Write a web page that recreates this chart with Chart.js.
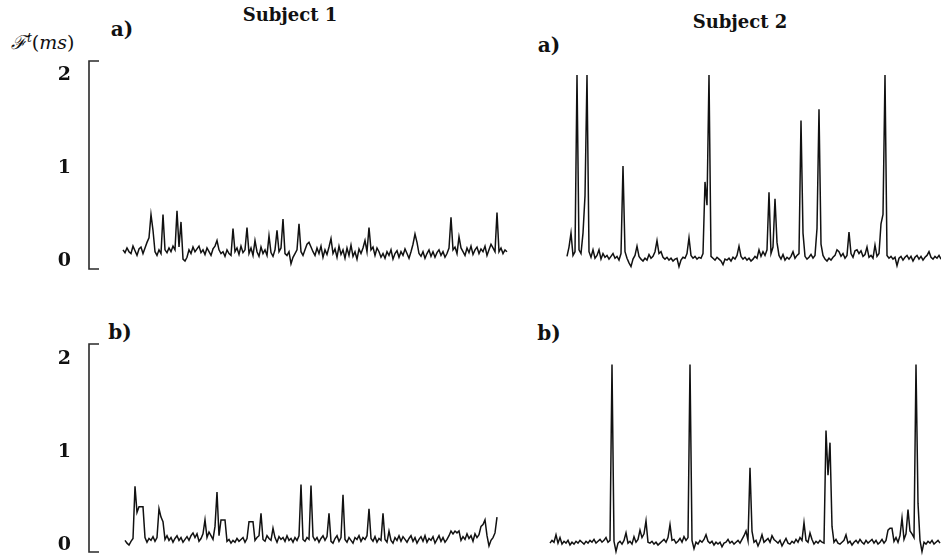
<!DOCTYPE html>
<html>
<head>
<meta charset="utf-8">
<script src="https://cdn.jsdelivr.net/npm/chart.js@4/dist/chart.umd.min.js"></script>
<style>
  html, body { margin:0; padding:0; background:#fff; }
  body { width:941px; height:558px; overflow:hidden; position:relative; }
  canvas { position:absolute; }
  .t { position:absolute; transform:translate(-50%,-50%); font-family:"DejaVu Serif", serif; font-weight:bold; color:#111; white-space:nowrap; }
  .sub { font-size:18px; }
  .lab { font-size:20px; }
  .ylab { position:absolute; left:11px; top:42px; transform:translateY(-50%); font-family:"DejaVu Serif", serif; font-size:19px; color:#111; white-space:nowrap; }
  .ylab i { font-style:italic; }
  .ylab sup { font-size:12px; font-style:italic; }
</style>
</head>
<body>
<div class="t sub" style="left:290px; top:14px;">Subject 1</div>
<div class="t sub" style="left:740px; top:21px;">Subject 2</div>
<div class="t lab" style="left:122px; top:29px;">a)</div>
<div class="t lab" style="left:549px; top:45px;">a)</div>
<div class="t lab" style="left:120px; top:332px;">b)</div>
<div class="t lab" style="left:549px; top:333px;">b)</div>
<div class="ylab"><span style="font-style:italic;">ℱ</span><sup>t</sup>(<i>ms</i>)</div>

<canvas id="c1a" width="515" height="230" style="left:0px; top:50px;"></canvas>
<canvas id="c2a" width="381" height="230" style="left:560px; top:50px;"></canvas>
<canvas id="c1b" width="515" height="225" style="left:0px; top:333px;"></canvas>
<canvas id="c2b" width="396" height="225" style="left:545px; top:333px;"></canvas>

<script>
// Tick labels on the y axis (F^t in ms)
const yTicks = [0, 1, 2];

// Subject 1, panel a)
const subject1A = [
  0.12,0.09,0.14,0.10,0.08,0.16,0.11,0.06,0.13,0.15,
  0.08,0.14,0.20,0.25,0.50,0.33,0.10,0.06,0.12,0.08,
  0.50,0.12,0.09,0.14,0.10,0.16,0.12,0.54,0.15,0.42,
  0.02,0.00,0.04,0.12,0.08,0.15,0.10,0.13,0.16,0.09,
  0.12,0.07,0.14,0.10,0.06,0.13,0.16,0.22,0.12,0.08,
  0.10,0.05,0.12,0.08,0.06,0.35,0.10,0.14,0.07,0.16,
  0.09,0.12,0.36,0.08,0.14,0.06,0.22,0.10,0.05,0.15,
  0.08,0.12,0.06,0.27,0.09,0.05,0.12,0.33,0.10,0.14,
  0.45,0.08,0.06,0.10,-0.03,0.04,0.08,0.12,0.40,0.10,
  0.06,0.12,0.18,0.20,0.15,0.10,0.06,0.14,0.08,0.16,
  0.04,0.12,0.07,0.15,0.24,0.08,0.13,0.04,0.16,0.07,
  0.12,0.03,0.14,0.06,0.17,0.05,0.10,0.02,0.13,0.08,
  0.14,0.22,0.10,0.36,0.12,0.15,0.06,0.14,0.10,0.04,
  0.08,0.03,0.10,0.06,0.12,0.02,0.08,0.11,0.04,0.10,
  0.06,0.13,0.08,0.03,0.10,0.18,0.29,0.20,0.08,0.05,
  0.10,0.03,0.08,0.12,0.05,0.10,0.04,0.09,0.12,0.06,
  0.10,0.04,0.08,0.14,0.47,0.12,0.15,0.08,0.26,0.14,
  0.10,0.06,0.14,0.09,0.16,0.07,0.12,0.15,0.08,0.13,
  0.10,0.16,0.06,0.12,0.18,0.14,0.10,0.52,0.10,0.14,
  0.08,0.12,0.10
];

// Subject 2, panel a)
const subject2A = [
  0.05,0.15,0.30,0.06,0.10,2.00,0.12,0.08,0.30,0.70,
  2.00,0.10,0.04,0.12,0.03,0.06,0.12,0.02,0.08,0.04,
  0.06,0.02,0.05,0.08,0.03,0.05,0.01,0.08,1.02,0.10,
  0.03,-0.02,-0.06,0.02,0.06,0.16,0.05,0.02,0.00,0.03,
  0.01,0.07,0.03,0.05,0.10,0.22,0.08,0.10,0.04,0.02,
  0.04,0.01,0.03,0.00,0.02,0.03,-0.06,0.01,0.04,0.03,
  0.08,0.25,0.06,0.03,0.05,0.02,0.04,0.03,0.08,0.85,
  0.60,2.00,0.05,0.03,0.01,0.04,0.02,0.00,-0.04,0.02,
  0.01,0.03,0.00,0.04,0.02,0.06,0.16,0.05,0.02,0.04,
  0.01,0.03,0.00,0.02,0.05,0.03,0.12,0.05,0.10,0.06,
  0.12,0.74,0.08,0.15,0.67,0.20,0.06,0.02,0.07,0.01,
  0.04,0.02,0.05,0.10,0.03,0.06,0.08,1.51,0.30,0.05,
  0.02,0.04,0.07,0.03,0.06,0.35,1.63,0.18,0.06,0.02,
  0.00,0.03,0.01,0.04,0.06,0.12,0.10,0.05,0.08,0.03,
  0.06,0.31,0.08,0.04,0.11,0.12,0.08,0.11,0.05,0.07,
  0.15,0.04,0.06,0.03,0.17,0.05,0.08,0.40,0.50,2.00,
  0.06,0.03,0.05,0.02,0.04,-0.05,0.03,0.05,0.01,0.04,
  0.06,0.02,0.05,0.00,0.04,0.06,0.02,0.05,0.01,0.04,
  0.06,0.10,0.04,0.02,0.05,0.03,0.06,0.02
];

// Subject 1, panel b)
const subject1B = [
  0.05,0.02,0.00,0.04,0.07,0.63,0.35,0.41,0.41,0.41,
  0.08,0.03,0.07,0.05,0.09,0.04,0.08,0.39,0.30,0.25,
  0.06,0.10,0.05,0.08,0.03,0.07,0.10,0.05,0.08,0.03,
  0.06,0.09,0.05,0.10,0.13,0.08,0.12,0.04,0.07,0.12,
  0.27,0.08,0.14,0.10,0.06,0.20,0.57,0.10,0.27,0.27,
  0.27,0.04,0.06,0.02,0.05,0.03,0.07,0.04,0.06,0.08,
  0.03,0.07,0.25,0.25,0.25,0.05,0.08,0.10,0.34,0.06,
  0.04,0.10,0.07,0.05,0.18,0.08,0.03,0.09,0.06,0.08,
  0.04,0.10,0.05,0.07,0.03,0.08,0.05,0.10,0.65,0.06,
  0.04,0.08,0.06,0.64,0.09,0.05,0.08,0.03,0.07,0.10,
  0.05,0.09,0.34,0.04,0.02,0.07,0.10,0.04,0.08,0.54,
  0.06,0.03,0.08,0.05,0.02,0.08,0.06,0.10,0.04,0.08,
  0.06,0.10,0.39,0.07,0.04,0.09,0.03,0.07,0.05,0.34,
  0.06,0.03,0.15,0.05,0.02,0.08,0.05,0.10,0.04,0.09,
  0.06,0.03,0.07,0.10,0.04,0.08,0.02,0.06,0.09,0.04,
  0.10,0.03,0.07,0.05,0.09,0.02,0.06,0.10,0.04,0.08,
  0.03,0.06,0.10,0.15,0.12,0.15,0.13,0.15,0.05,0.09,
  0.06,0.12,0.07,0.10,0.04,0.12,0.08,0.11,0.20,0.22,
  0.27,0.10,-0.01,0.05,0.08,0.13,0.30
];

// Subject 2, panel b)
const subject2B = [
  0.02,0.05,0.03,0.11,0.02,0.08,0.01,0.04,0.02,0.05,
  0.00,0.03,0.01,0.04,0.02,0.05,0.03,0.01,0.04,0.02,
  0.05,0.03,0.06,0.02,0.04,0.06,0.03,0.05,0.08,0.03,
  0.05,1.94,0.04,-0.07,0.02,0.04,0.01,0.05,0.13,0.02,
  0.04,0.01,0.09,0.03,0.06,0.16,0.08,0.12,0.26,0.03,
  0.02,0.04,0.01,0.03,0.00,0.02,0.04,0.06,0.03,0.08,
  0.22,0.05,0.06,0.02,0.04,0.07,0.03,0.09,0.05,0.08,
  1.94,0.05,-0.04,0.03,0.01,0.05,0.03,0.06,0.11,0.04,
  0.02,0.04,0.00,0.03,0.01,0.03,-0.02,0.02,0.03,0.06,
  0.02,0.04,0.01,0.03,0.05,0.02,0.06,0.10,0.15,0.05,
  0.83,0.15,0.03,0.05,-0.01,0.04,0.11,0.03,0.05,0.07,
  0.03,0.10,0.06,0.04,0.02,0.05,-0.01,0.03,0.07,0.02,
  0.01,0.04,0.02,0.06,0.03,0.08,0.05,0.24,0.05,0.03,
  0.13,0.06,0.01,0.04,0.02,0.05,0.03,0.02,1.23,0.75,
  1.10,0.20,0.03,0.06,0.02,0.01,0.03,0.05,0.11,0.02,
  0.04,0.00,0.03,0.05,0.02,0.06,0.03,0.01,0.05,0.02,
  0.04,0.06,0.02,0.05,0.01,0.03,0.06,0.02,0.05,0.16,
  0.18,0.18,0.04,0.08,0.03,0.10,0.29,0.06,0.12,0.38,
  0.15,0.12,0.08,1.94,0.45,0.05,-0.07,0.03,0.01,0.04,
  0.02,0.05,0.01,0.03,0.05,0.02
];

const bracketPlugin = {
  id: 'bracket',
  afterDraw(chart) {
    const s = chart.scales.y;
    if (!s.options.display) return;
    const ctx = chart.ctx;
    ctx.save();
    ctx.strokeStyle = '#2a2a2a';
    ctx.lineWidth = 1.6;
    ctx.beginPath();
    ctx.moveTo(s.right + 10, s.top);
    ctx.lineTo(s.right, s.top);
    ctx.lineTo(s.right, s.bottom);
    ctx.lineTo(s.right + 10, s.bottom);
    ctx.stroke();
    ctx.restore();
  }
};

function makePanel(id, values, cfg) {
  const labels = values.map((_, i) => i);
  return new Chart(document.getElementById(id), {
    type: 'line',
    data: {
      labels: labels,
      datasets: [{
        data: values,
        borderColor: '#111111',
        borderWidth: 1.5,
        pointRadius: 0,
        tension: 0,
        fill: false,
        clip: false
      }]
    },
    options: {
      responsive: false,
      animation: false,
      devicePixelRatio: 1,
      layout: { padding: { top: 11, bottom: cfg.padBottom, left: 0, right: 0 } },
      plugins: { legend: { display: false }, tooltip: { enabled: false }, title: { display: false } },
      scales: {
        x: { type: 'linear', min: cfg.xMin, max: cfg.xMax, display: false },
        y: {
          min: cfg.yMin, max: cfg.yMax,
          display: cfg.showAxis,
          position: 'left',
          afterFit: (s) => {
            if (cfg.showAxis) { s.width = 89; }
            s.paddingTop = 0; s.paddingBottom = 0;
          },
          afterBuildTicks: (s) => { s.ticks = yTicks.map(v => ({ value: v })); },
          grid: { display: false },
          border: { display: false },
          ticks: {
            padding: 10,
            color: '#111',
            font: { family: 'DejaVu Serif', weight: 'bold', size: 19 }
          }
        }
      }
    },
    plugins: [bracketPlugin]
  });
}

makePanel('c1a', subject1A, { showAxis: true,  xMin: -17,  xMax: 196,   yMin: -0.086, yMax: 2.15, padBottom: 11 });
makePanel('c2a', subject2A, { showAxis: false, xMin: -3.5, xMax: 187,   yMin: -0.086, yMax: 2.15, padBottom: 11 });
makePanel('c1b', subject1B, { showAxis: true,  xMin: -18,  xMax: 195,   yMin: -0.075, yMax: 2.16, padBottom: 6 });
makePanel('c2b', subject2B, { showAxis: false, xMin: -2.5, xMax: 195.5, yMin: -0.075, yMax: 2.16, padBottom: 6 });
</script>
</body>
</html>
